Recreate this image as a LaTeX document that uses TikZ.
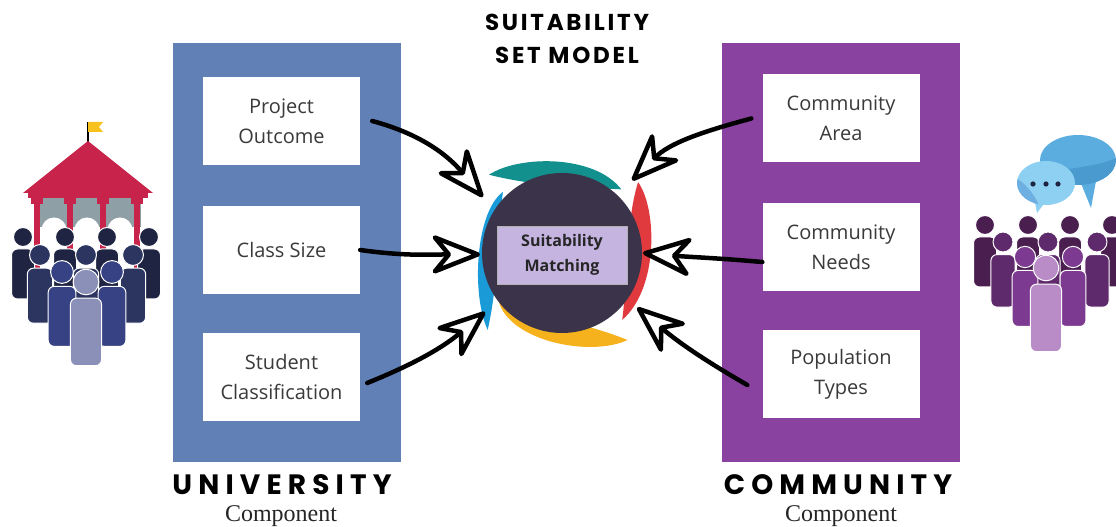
\documentclass[tikz,border=0pt]{standalone}
\usepackage{fontspec}
\setmainfont{Open Sans}
\newfontfamily\headfont[LetterSpace=12]{Poppins}
\newfontfamily\compfont{Liberation Serif}
\usetikzlibrary{arrows.meta}

\definecolor{uniblue}{RGB}{96,128,182}
\definecolor{compurple}{RGB}{138,66,160}
\definecolor{hubdark}{RGB}{58,51,73}
\definecolor{hublilac}{RGB}{197,179,224}
\definecolor{boxtext}{RGB}{58,58,58}
\definecolor{swteal}{RGB}{18,144,142}
\definecolor{swred}{RGB}{224,58,62}
\definecolor{swyellow}{RGB}{245,178,28}
\definecolor{swblue}{RGB}{26,155,216}
\definecolor{roofred}{RGB}{200,35,75}
\definecolor{archgray}{RGB}{142,159,166}
\definecolor{flagyellow}{RGB}{247,194,30}
\definecolor{navyA}{RGB}{31,36,66}
\definecolor{navyB}{RGB}{44,53,96}
\definecolor{navyC}{RGB}{54,66,131}
\definecolor{navyD}{RGB}{139,144,184}
\definecolor{plumA}{RGB}{75,30,80}
\definecolor{plumB}{RGB}{95,42,107}
\definecolor{plumC}{RGB}{124,58,144}
\definecolor{plumD}{RGB}{185,140,200}
\definecolor{bubbleA}{RGB}{91,173,224}
\definecolor{bubbleAdark}{RGB}{74,154,208}
\definecolor{bubbleB}{RGB}{141,208,242}
\definecolor{bubbleBdark}{RGB}{109,175,224}

% one figure of a crowd: head centre x, y, scale, colour
\newcommand{\crowdfig}[4]{%
  \filldraw[fill=#4, draw=white, line width=1pt] (#1,#2) circle ({9.5*#3});
  \filldraw[fill=#4, draw=white, line width=1pt, rounded corners=6pt]
    ({#1-11.5*#3},{#2-12*#3}) rectangle ({#1+11.5*#3},{#2-62*#3});
}

\begin{document}
\begin{tikzpicture}[x=1pt,y=1pt,
  panel/.style={minimum width=#1, minimum height=419, inner sep=0},
  item/.style={fill=white, minimum width=157, minimum height=88, inner sep=0,
    align=center, text=boxtext, font=\fontsize{20}{30}\selectfont},
  flow/.style={line width=4.5pt, line cap=round,
    -{Stealth[length=56pt, width=44pt, inset=18pt, open, round, fill=white]}}]

\useasboundingbox (0,0) rectangle (1116,527);

% Panels
\node[panel=228, fill=uniblue] (uni) at (287,274.5) {};
\node[panel=238, fill=compurple] (com) at (841,274.5) {};

% University items
\node[item] (project) at (281.5,406) {Project\\Outcome};
\node[item] (classsize) at (281.5,277) {Class Size};
\node[item] (student) at (281.5,150) {Student\\Classification};

% Community items
\node[item] (commarea) at (841,408.5) {Community\\Area};
\node[item] (commneeds) at (841,280) {Community\\Needs};
\node[item] (poptypes) at (841,153) {Population\\Types};

% Swooshes round the hub
\begin{scope}[shift={(562,274)}]
\fill[swteal] (133:107) .. controls (114:107) and (72:104) .. (47:87)
  .. controls (70:70) and (110:70) .. cycle;
\fill[swred] (43:104) .. controls (25:105) and (-20:103) .. (-48:90)
  .. controls (-20:70) and (25:70) .. cycle;
\fill[swyellow] (307:109) .. controls (285:108) and (240:102) .. (218:80)
  .. controls (245:70) and (285:70) .. cycle;
\fill[swblue] (226:107) .. controls (205:100) and (155:96) .. (134:85)
  .. controls (155:70) and (205:70) .. cycle;
\end{scope}

% Hub
\node[circle, fill=hubdark, minimum size=160, inner sep=0] (match) at (562,274) {};
\node[fill=hublilac, draw=gray!60, minimum width=130, minimum height=58, inner sep=0,
  align=center, text=black!85, font=\bfseries\fontsize{16}{25}\selectfont]
  (matchbox) at (562,272) {Suitability\\Matching};

% Arrows into the hub
\draw[flow] ([xshift=12pt]project.east) to[out=-15,in=130] ([shift={(144.7:97)}]match.center);
\draw[flow] (classsize.east) to[out=-8,in=180] ([shift={(181:82)}]match.center);
\draw[flow] ([xshift=7pt,yshift=-6pt]student.east) to[out=22,in=220] ([shift={(217.5:97)}]match.center);
\draw[flow] ([xshift=-11pt]commarea.west) to[out=195,in=45] ([shift={(46:101)}]match.center);
\draw[flow] ([yshift=-15pt]commneeds.west) to[out=175,in=-5] ([shift={(0:81)}]match.center);
\draw[flow] ([xshift=-15pt,yshift=-11pt]poptypes.west) to[out=150,in=-40] ([shift={(-36:93)}]match.center);

% Title and captions
\node[font=\headfont\bfseries\fontsize{23}{33}\selectfont, align=center] (title)
  at (567,488.5) {SUITABILITY\\SET MODEL};
\node[font=\headfont\bfseries\addfontfeature{LetterSpace=22}\fontsize{28}{30}\selectfont] (unihead)
  at (282,42) {UNIVERSITY};
\node[font=\compfont\fontsize{24}{26}\selectfont, anchor=base, text=black!85] (unisub)
  at (281,5) {Component};
\node[font=\headfont\bfseries\addfontfeature{LetterSpace=22}\fontsize{28}{30}\selectfont] (comhead)
  at (838,42) {COMMUNITY};
\node[font=\compfont\fontsize{24}{26}\selectfont, anchor=base, text=black!85] (comsub)
  at (841,5) {Component};

% Gazebo
\draw[line width=1.5pt] (88,384) -- (88,405);
\fill[flagyellow] (88,405) -- (103,405) -- (99,400) -- (103,395) -- (88,395) -- cycle;
\fill[roofred] (88,386) -- (153,334) -- (23,334) -- cycle;
\fill[roofred] (28,329) rectangle (148,334);
\fill[roofred] (25,240) rectangle (158,248);
\fill[archgray] (35,300) rectangle (141,329);
\foreach \ax in {54,87,120} {
  \fill[white] (\ax-12.5,297) arc[start angle=180, end angle=0, radius=12.5] -- (\ax+12.5,240) -- (\ax-12.5,240) -- cycle;
}
\foreach \cx in {37,70,103,137} {
  \fill[roofred] (\cx-3,240) rectangle (\cx+3,329);
  \fill[roofred] (\cx-6,323) rectangle (\cx+6,329);
}

% University crowd
\foreach \hx in {23,65,107,149} { \crowdfig{\hx}{290}{1}{navyA} }
\foreach \hx in {40,86,133} { \crowdfig{\hx}{272}{1.1}{navyB} }
\foreach \hx in {62,112} { \crowdfig{\hx}{255}{1.2}{navyC} }
\crowdfig{86}{245}{1.35}{navyD}

% Speech bubbles
\fill[bubbleA] (1080,346) -- (1096,346) -- (1091,319) -- cycle;
\fill[bubbleA] (1078,367) ellipse (38 and 25);
\begin{scope}
\clip (1078,367) ellipse (38 and 25);
\fill[bubbleAdark] (1040,352) .. controls (1070,360) and (1100,360) .. (1118,370) -- (1118,340) -- (1040,340) -- cycle;
\end{scope}
\fill[bubbleB] (1034,330) -- (1046,326) -- (1037,314) -- cycle;
\fill[bubbleB] (1046,344) ellipse (29 and 22);
\begin{scope}
\clip (1046,344) ellipse (29 and 22);
\fill[bubbleBdark] (1015,350) .. controls (1030,340) and (1035,330) .. (1040,320) -- (1010,320) -- cycle;
\end{scope}
\foreach \dx in {1033,1046,1058} { \fill[navyA] (\dx,343) circle (2.6); }

% Community crowd
\foreach \hx in {985,1028,1070,1112} { \crowdfig{\hx}{302}{1}{plumA} }
\foreach \hx in {1003,1048,1097} { \crowdfig{\hx}{285}{1.05}{plumB} }
\foreach \hx in {1025,1073} { \crowdfig{\hx}{270}{1.12}{plumC} }
\crowdfig{1046}{259}{1.35}{plumD}

\end{tikzpicture}
\end{document}
